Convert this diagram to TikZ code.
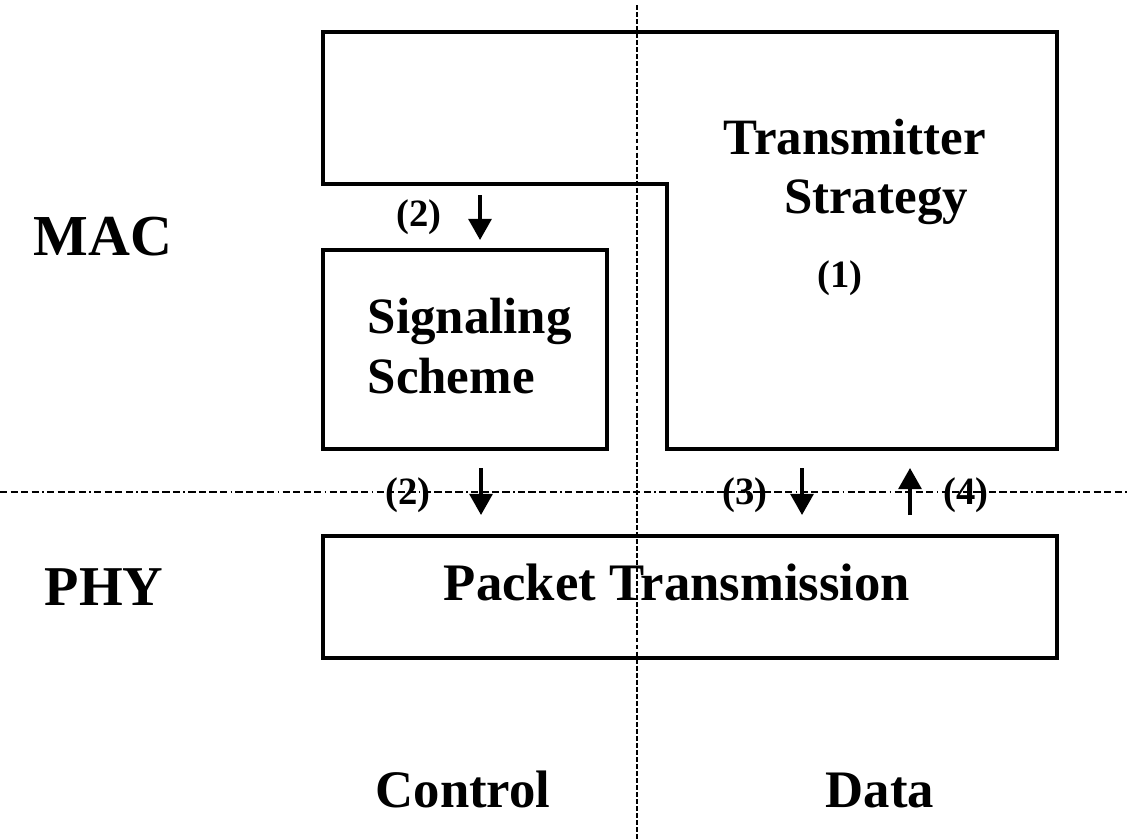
\documentclass[tikz,border=0pt]{standalone}
\usepackage{fontspec}
\setmainfont{Liberation Serif}
\usetikzlibrary{arrows.meta}
\begin{document}
\begin{tikzpicture}[x=0.02cm,y=-0.02cm,line join=miter,>={Triangle[width=13pt,length=12pt]},thick]
	\tikzset{box/.style={line width=2.2pt},
		layer/.style={font=\fontsize{33}{36}\selectfont\bfseries,anchor=base,inner sep=0pt},
		title/.style={font=\fontsize{29}{34}\selectfont\bfseries,anchor=base,inner sep=0pt},
		num/.style={font=\fontsize{22}{26}\selectfont\bfseries,anchor=base,inner sep=0pt},
		flow/.style={->,line width=2pt}}
	\useasboundingbox (0,0) rectangle (1128,839);
	\draw[line width=0.9pt,dash pattern=on 2.8pt off 1.2pt] (637,5)--(637,839);
	\draw[line width=1pt,dash pattern=on 4.1pt off 1.9pt on 4.1pt off 1.9pt on 4.1pt off 1.9pt on 4.1pt off 1.9pt on 0.9pt off 1.9pt] (0,492)--(1128,492);
	\draw[box] (323,32)--(1057,32)--(1057,449)--(667,449)--(667,184)--(323,184)--cycle;
	\draw[box] (323,250) rectangle (607,449);
	\draw[box] (323,536) rectangle (1057,658);
	\node[layer] (mac) at (103,255) {MAC};
	\node[layer,font=\fontsize{32}{36}\selectfont\bfseries] (phy) at (104,605) {PHY};
	\node[title] (tx1) at (855,154) {Transmitter};
	\node[title] (tx2) at (876,213) {Strategy};
	\node[num] (n1) at (840,287) {(1)};
	\node[title,anchor=base west] (sig1) at (367,333) {Signaling};
	\node[title,anchor=base west] (sig2) at (367,393) {Scheme};
	\node[title,font=\fontsize{30}{34}\selectfont\bfseries] (pkt) at (677,600) {Packet Transmission};
	\node[title,font=\fontsize{30}{34}\selectfont\bfseries] (control) at (463,807) {Control};
	\node[title,font=\fontsize{30}{34}\selectfont\bfseries] (data) at (880,807) {Data};
	\node[num] (n2a) at (419,226) {(2)};
	\node[num] (n2b) at (408,504) {(2)};
	\node[num] (n3) at (745,504) {(3)};
	\node[num] (n4) at (966,504) {(4)};
	\coordinate (a1) at (480,195); \coordinate (b1) at (480,240);
	\coordinate (a2) at (481,468); \coordinate (b2) at (481,515);
	\coordinate (a3) at (802,468); \coordinate (b3) at (802,515);
	\coordinate (a4) at (910,515); \coordinate (b4) at (910,468);
	\foreach \i in {1,...,4}
	\draw[flow] (a\i)--(b\i);
\end{tikzpicture}
\end{document}
